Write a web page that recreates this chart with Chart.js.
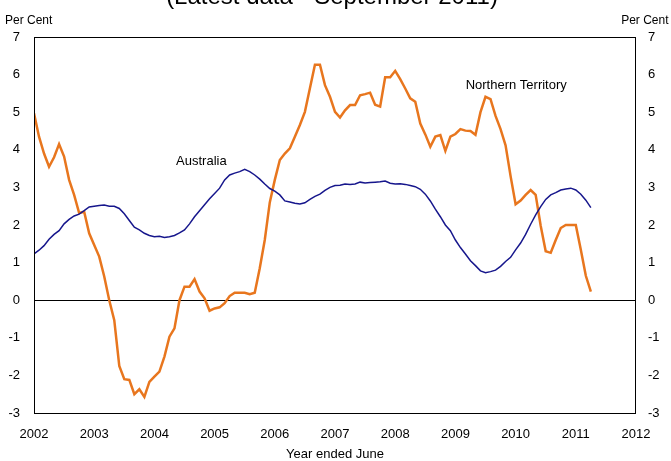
<!DOCTYPE html>
<html><head><meta charset="utf-8">
<script src="https://cdn.jsdelivr.net/npm/chart.js@4/dist/chart.umd.min.js"></script>
<style>html,body{margin:0;padding:0;background:#fff}#wrap{width:671px;height:461px;position:relative}</style>
</head><body><div id="wrap"><canvas id="c" width="671" height="461"></canvas></div>
<script>
// Monthly year-ended growth, first observation sits on the 2002 tick
const startYear = 2002;
const yearTicks = [2002, 2003, 2004, 2005, 2006, 2007, 2008, 2009, 2010, 2011, 2012];
const valueTicks = [-3, -2, -1, 0, 1, 2, 3, 4, 5, 6, 7];

const australia = [
  1.23,1.33,1.45,1.62,1.75,1.85,2.03,2.15,2.24,2.29,2.38,2.48,
  2.5,2.52,2.53,2.5,2.5,2.44,2.3,2.12,1.94,1.87,1.78,1.72,
  1.69,1.7,1.67,1.69,1.72,1.79,1.87,2.03,2.22,2.38,2.54,2.7,
  2.84,2.98,3.2,3.33,3.38,3.42,3.48,3.42,3.33,3.22,3.09,2.97,
  2.9,2.8,2.64,2.61,2.58,2.56,2.59,2.68,2.76,2.82,2.92,3.0,
  3.05,3.06,3.09,3.08,3.09,3.14,3.12,3.13,3.14,3.15,3.17,3.11,
  3.09,3.1,3.08,3.05,3.02,2.95,2.82,2.64,2.42,2.22,2.0,1.85,
  1.6,1.4,1.23,1.05,0.92,0.78,0.73,0.76,0.8,0.9,1.03,1.14,
  1.34,1.52,1.75,2.02,2.27,2.49,2.68,2.8,2.86,2.93,2.96,2.98,
  2.93,2.82,2.66,2.46
];
const northernTerritory = [
  4.97,4.35,3.9,3.55,3.8,4.15,3.82,3.2,2.8,2.32,2.35,1.78,
  1.47,1.16,0.63,0.0,-0.53,-1.75,-2.1,-2.12,-2.5,-2.37,-2.57,-2.17,
  -2.03,-1.9,-1.5,-0.97,-0.75,0.0,0.36,0.36,0.56,0.23,0.05,-0.28,
  -0.22,-0.19,-0.08,0.11,0.2,0.2,0.2,0.16,0.2,0.85,1.6,2.6,
  3.2,3.73,3.9,4.04,4.35,4.66,5.01,5.64,6.26,6.26,5.72,5.41,
  5.01,4.86,5.05,5.19,5.19,5.45,5.48,5.52,5.2,5.15,5.93,5.93,
  6.1,5.88,5.63,5.37,5.28,4.7,4.41,4.08,4.35,4.39,3.97,4.35,
  4.42,4.55,4.51,4.5,4.4,5.0,5.41,5.35,4.9,4.55,4.12,3.3,
  2.55,2.65,2.8,2.93,2.8,1.98,1.3,1.26,1.6,1.92,2.0,2.0,
  2.0,1.34,0.65,0.23
];
const seriesLabels = ['Australia', 'Northern Territory'];
const noteAnchors = [ {x: 2004.78, y: 3.68}, {x: 2010.01, y: 5.72} ];
const titleText = '(Latest data - September 2011)';
const unitText = 'Per Cent';
const xTitle = 'Year ended June';

const toPoints = arr => arr.map((v, i) => ({x: startYear + i / 12, y: v}));
const FONT = '"Liberation Sans", Arial, sans-serif';

const textPlugin = {
  id: 'texts',
  afterDraw(chart) {
    const ctx = chart.ctx, a = chart.chartArea, xs = chart.scales.x, ys = chart.scales.y;
    ctx.save();
    ctx.strokeStyle = '#000'; ctx.lineWidth = 1;
    ctx.strokeRect(Math.round(a.left) + 0.5, Math.round(a.top) + 0.5, Math.round(a.right - a.left) - 1, Math.round(a.bottom - a.top));
    ctx.fillStyle = '#000';
    ctx.font = '24px ' + FONT; ctx.textAlign = 'center'; ctx.textBaseline = 'alphabetic';
    ctx.fillText(titleText, 332, 4);
    ctx.font = '12px ' + FONT;
    ctx.textAlign = 'left'; ctx.fillText(unitText, 5, 23.5);
    ctx.textAlign = 'right'; ctx.fillText(unitText, 668.5, 23.5);
    ctx.font = '13px ' + FONT; ctx.textAlign = 'center'; ctx.textBaseline = 'middle';
    noteAnchors.forEach((n, i) => ctx.fillText(seriesLabels[i], xs.getPixelForValue(n.x), ys.getPixelForValue(n.y)));
    ctx.restore();
  }
};

new Chart(document.getElementById('c'), {
  type: 'line',
  data: {
    datasets: [
      {label: seriesLabels[0], data: toPoints(australia), borderColor: '#16168C', borderWidth: 1.5, pointRadius: 0, tension: 0},
      {label: seriesLabels[1], data: toPoints(northernTerritory), borderColor: '#E8761E', borderWidth: 2.5, pointRadius: 0, tension: 0}
    ]
  },
  options: {
    responsive: false, animation: false, devicePixelRatio: 1,
    layout: {padding: {top: 37, left: 0, right: 0, bottom: 0}},
    plugins: {legend: {display: false}, tooltip: {enabled: false}},
    scales: {
      x: {
        type: 'linear', min: yearTicks[0], max: yearTicks[yearTicks.length - 1],
        afterBuildTicks: s => { s.ticks = yearTicks.map(v => ({value: v})); },
        afterFit: s => { s.height = 48; },
        grid: {display: false, drawTicks: false},
        border: {display: false},
        ticks: {color: '#000', font: {family: FONT, size: 13}, padding: 14, maxRotation: 0, autoSkip: false, callback: v => String(v)},
        title: {display: true, text: xTitle, color: '#000', font: {family: FONT, size: 13, lineHeight: 1}, padding: {top: 0, bottom: 0}}
      },
      y: {
        position: 'left', min: -3, max: 7,
        afterBuildTicks: s => { s.ticks = valueTicks.map(v => ({value: v})); },
        afterFit: s => { s.width = 34; },
        grid: {drawTicks: false, color: c => c.tick && c.tick.value === 0 ? '#000' : 'rgba(0,0,0,0)', lineWidth: 1},
        border: {display: false},
        ticks: {color: '#000', font: {family: FONT, size: 13}, padding: 14}
      },
      y2: {
        position: 'right', min: -3, max: 7,
        afterBuildTicks: s => { s.ticks = valueTicks.map(v => ({value: v})); },
        afterFit: s => { s.width = 35; },
        grid: {display: false, drawTicks: false},
        border: {display: false},
        ticks: {color: '#000', font: {family: FONT, size: 13}, padding: 12}
      }
    }
  },
  plugins: [textPlugin]
});
</script></body></html>
